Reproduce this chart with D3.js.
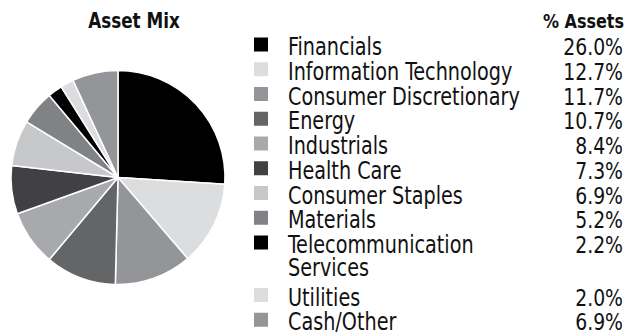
<!DOCTYPE html>
<html>
<head>
<meta charset="utf-8">
<script src="https://cdn.jsdelivr.net/npm/d3@7"></script>
<style>
  html, body { margin: 0; padding: 0; background: #fff; }
  svg { display: block; }
  text { font-family: "DejaVu Sans Condensed", "DejaVu Sans", sans-serif; font-stretch: condensed; fill: #111; }
</style>
</head>
<body>
<svg id="chart" width="628" height="332"></svg>
<script>
// Sector allocation (% of assets)
const categories = [
  "Financials", "Information Technology", "Consumer Discretionary", "Energy",
  "Industrials", "Health Care", "Consumer Staples", "Materials",
  "Telecommunication Services", "Utilities", "Cash/Other"
];
const values = [26.0, 12.7, 11.7, 10.7, 8.4, 7.3, 6.9, 5.2, 2.2, 2.0, 6.9];
const valueLabels = ["26.0%", "12.7%", "11.7%", "10.7%", "8.4%", "7.3%", "6.9%", "5.2%", "2.2%", "2.0%", "6.9%"];
// Legend lines (long names wrap onto a second line)
const legendLines = [
  ["Financials"], ["Information Technology"], ["Consumer Discretionary"], ["Energy"],
  ["Industrials"], ["Health Care"], ["Consumer Staples"], ["Materials"],
  ["Telecommunication", "Services"], ["Utilities"], ["Cash/Other"]
];
const shades = [
  "#000000", "#dcdddf", "#939598", "#646567", "#a7a9ac", "#414042",
  "#c7c8ca", "#808285", "#000000", "#dcdddf", "#939598"
];

const data = categories.map((c, i) => ({ name: c, value: values[i], label: valueLabels[i], lines: legendLines[i] }));

const svg = d3.select("#chart");
const color = d3.scaleOrdinal().domain(categories).range(shades);

// Narrow the type horizontally to get a condensed face
const squeeze = 0.89;
function label(parent, x, y, str, size, anchor, weight) {
  return parent.append("text")
    .attr("transform", `translate(${x},${y}) scale(${squeeze},1)`)
    .attr("text-anchor", anchor || "start")
    .attr("font-size", size)
    .attr("font-weight", weight || "normal")
    .text(str);
}

// Pie
const cx = 118, cy = 177.5, r = 107;
const pie = d3.pie().value(d => d.value).sort(null);
const arc = d3.arc().innerRadius(0).outerRadius(r);

svg.append("g")
  .attr("transform", `translate(${cx},${cy})`)
  .selectAll("path")
  .data(pie(data))
  .join("path")
  .attr("d", arc)
  .attr("fill", d => color(d.data.name))
  .attr("stroke", "#fff")
  .attr("stroke-width", 1.5)
  .attr("stroke-linejoin", "round");

// Titles
label(svg, 134, 28, "Asset Mix", 21, "middle", "bold");
label(svg, 624, 28, "% Assets", 20, "end", "bold");

// Legend
const rowStep = 24.75, wrapStep = 23, afterWrap = 29.5;
let y = 55;
const legend = svg.append("g");
data.forEach(d => {
  const g = legend.append("g");
  g.append("rect")
    .attr("x", 254).attr("y", y - 17.5)
    .attr("width", 14).attr("height", 14)
    .attr("fill", color(d.name));
  d.lines.forEach((line, j) => label(g, 288, y + j * wrapStep, line, 24));
  label(g, 623, y, d.label, 23.5, "end");
  y += d.lines.length > 1 ? wrapStep + afterWrap : rowStep;
});
</script>
</body>
</html>
